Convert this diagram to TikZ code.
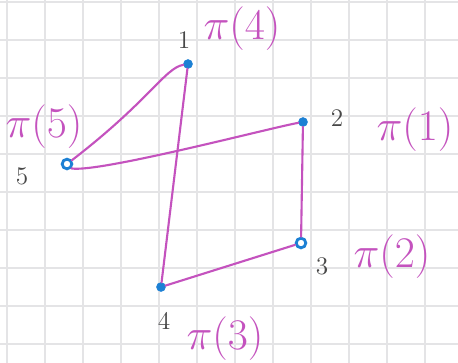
\documentclass[tikz,border=0pt]{standalone}
\usepackage{amsmath,amssymb}
\usepackage{tikz}
\usetikzlibrary{arrows.meta,positioning}
\definecolor{gridgray}{RGB}{228,228,230}
\definecolor{pink}{RGB}{196,82,190}
\definecolor{dotblue}{RGB}{28,128,212}
\definecolor{pencil}{RGB}{72,72,72}

\begin{document}
\begin{tikzpicture}[x=0.02cm,y=-0.02cm,
    dotfull/.style={circle,fill=dotblue,draw=dotblue,inner sep=0pt,minimum size=5pt},
    dotopen/.style={circle,fill=white,draw=dotblue,line width=1.6pt,inner sep=0pt,minimum size=5.5pt},
    tour/.style={draw=pink,line width=1.2pt,line cap=round},
    num/.style={font=\Large,text=pencil},
    perm/.style={font=\fontsize{24}{26}\selectfont,text=pink}]
  \useasboundingbox[fill=white] (0,0) rectangle (458,363);
  \foreach \gx in {7,45,...,460} \draw[gridgray,line width=0.7pt] (\gx,0) -- (\gx,363);
  \foreach \gy in {2,40,...,363} \draw[gridgray,line width=0.7pt] (0,\gy) -- (458,\gy);
  % cities
  \node[dotfull] (p1) at (188,64) {};
  \node[dotfull] (p2) at (303,122) {};
  \node[dotopen] (p3) at (301,243) {};
  \node[dotfull] (p4) at (161,287) {};
  \node[dotopen] (p5) at (67,164) {};
  % tour
  \draw[tour] (p5) .. controls (150,100) and (165,68) .. (p1);
  \draw[tour] (p1) -- (p4);
  \draw[tour] (p4) -- (p3);
  \draw[tour] (p3) -- (p2);
  \draw[tour] (p2) to[out=190,in=-10,looseness=0.3] (p5.south east);
  % labels
  \node[num] (n1) at (184,40) {1};
  \node[num] (n2) at (337,118) {2};
  \node[num] (n3) at (322,266) {3};
  \node[num] (n4) at (164,321) {4};
  \node[num] (n5) at (22,176) {5};
  \node[perm] (l4) at (242,29) {$\pi(4)$};
  \node[perm] (l1) at (415,130) {$\pi(1)$};
  \node[perm] (l2) at (392,257) {$\pi(2)$};
  \node[perm] (l3) at (225,339) {$\pi(3)$};
  \node[perm] (l5) at (44,127) {$\pi(5)$};
\end{tikzpicture}
\end{document}
